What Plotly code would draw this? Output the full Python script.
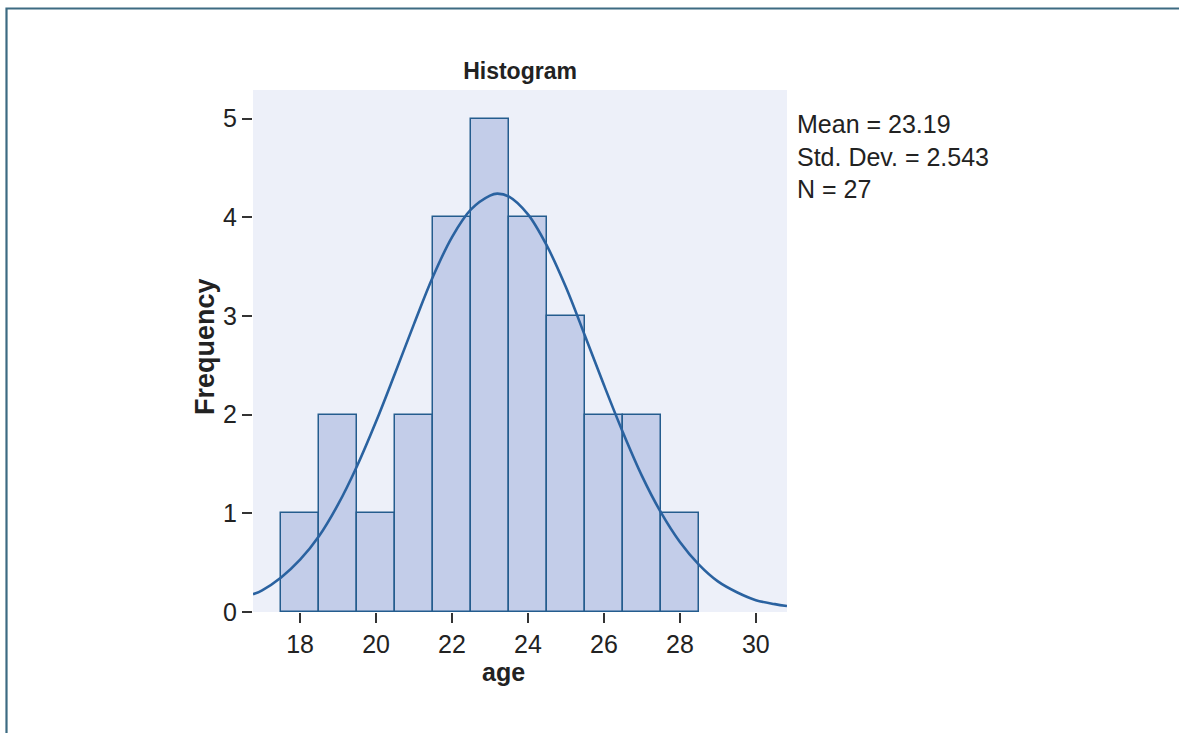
import plotly.graph_objects as go

# ---- data ----
age_bins = [18, 19, 20, 21, 22, 23, 24, 25, 26, 27, 28]
frequency = [1, 2, 1, 2, 4, 5, 4, 3, 2, 2, 1]

curve_x = [16.76, 17.0, 17.5, 18.0, 18.5, 19.0, 19.5, 20.0, 20.5, 21.0, 21.5, 22.0,
           22.5, 23.0, 23.19, 23.5, 24.0, 24.5, 25.0, 25.5, 26.0, 26.5, 27.0, 27.5,
           28.0, 28.5, 29.0, 29.5, 30.0, 30.5, 30.82]
curve_y = [0.18, 0.22, 0.35, 0.53, 0.77, 1.09, 1.48, 1.93, 2.42, 2.92, 3.40, 3.80,
           4.08, 4.22, 4.24, 4.21, 4.03, 3.71, 3.29, 2.80, 2.30, 1.82, 1.38, 1.01,
           0.71, 0.48, 0.31, 0.20, 0.12, 0.08, 0.06]

x_ticks = [18, 20, 22, 24, 26, 28, 30]
y_ticks = [0, 1, 2, 3, 4, 5]
stats_lines = ["Mean = 23.19", "Std. Dev. = 2.543", "N = 27"]
x_title = "age"
y_title = "Frequency"
chart_title = "Histogram"

FONT = "Liberation Sans, Arial, Helvetica, sans-serif"
W, H = 1179, 733
L, R, T, B = 253, 1179 - 787, 90, 733 - 612
pw = W - L - R
ph = H - T - B

def px_x(p):
    return (p - L) / pw

def px_y(p):
    return (H - B - p) / ph

fig = go.Figure()
fig.add_trace(go.Bar(
    x=age_bins, y=frequency, width=1,
    marker=dict(color="#c3cde9", line=dict(color="#245c8e", width=1.5)),
    showlegend=False, hoverinfo="x+y",
))
fig.add_trace(go.Scatter(
    x=curve_x, y=curve_y, mode="lines",
    line=dict(color="#2a62a0", width=2.6, shape="spline"),
    showlegend=False, hoverinfo="skip",
))

fig.update_layout(
    width=W, height=H,
    margin=dict(l=L, r=R, t=T, b=B),
    paper_bgcolor="white",
    plot_bgcolor="#edf0f9",
    bargap=0,
    font=dict(family=FONT, size=25, color="#222222"),
    title=dict(text="<b>" + chart_title + "</b>", x=0.5 * (L + (W - R)) / W, xanchor="center",
               yref="container", y=1 - 71 / H, yanchor="middle",
               font=dict(family=FONT, size=23, color="#222222")),
    xaxis=dict(
        range=[16.76, 30.82], tickvals=x_ticks, ticktext=[str(v) for v in x_ticks],
        showgrid=False, zeroline=False, showline=False,
        ticks="outside", ticklen=10, tickwidth=1.6, tickcolor="#333333",
        tickfont=dict(size=25, color="#222222"),
    ),
    yaxis=dict(
        range=[0, 5.29], tickvals=y_ticks, ticktext=[str(v) for v in y_ticks],
        showgrid=False, zeroline=False, showline=False,
        ticks="outside", ticklen=10, tickwidth=1.6, tickcolor="#333333",
        tickfont=dict(size=25, color="#222222"),
    ),
    annotations=[
        dict(text="<br>".join(stats_lines), xref="paper", yref="paper",
             x=px_x(795), y=px_y(108), xanchor="left", yanchor="top", align="left",
             showarrow=False, font=dict(family=FONT, size=25, color="#222222")),
        dict(text="<b>" + x_title + "</b>", xref="paper", yref="paper",
             x=px_x(503), y=px_y(672), xanchor="center", yanchor="middle",
             showarrow=False, font=dict(family=FONT, size=25, color="#222222")),
        dict(text="<b>" + y_title + "</b>", xref="paper", yref="paper",
             x=px_x(205), y=px_y(347), xanchor="center", yanchor="middle",
             textangle=-90, showarrow=False,
             font=dict(family=FONT, size=27, color="#222222")),
    ],
    shapes=[dict(
        type="rect", xref="paper", yref="paper",
        x0=px_x(6.5), x1=px_x(1200), y0=px_y(760), y1=px_y(8.5),
        line=dict(color="#3d6b82", width=2.2), fillcolor="rgba(0,0,0,0)",
        layer="above",
    )],
)

fig.write_html("out.html")
